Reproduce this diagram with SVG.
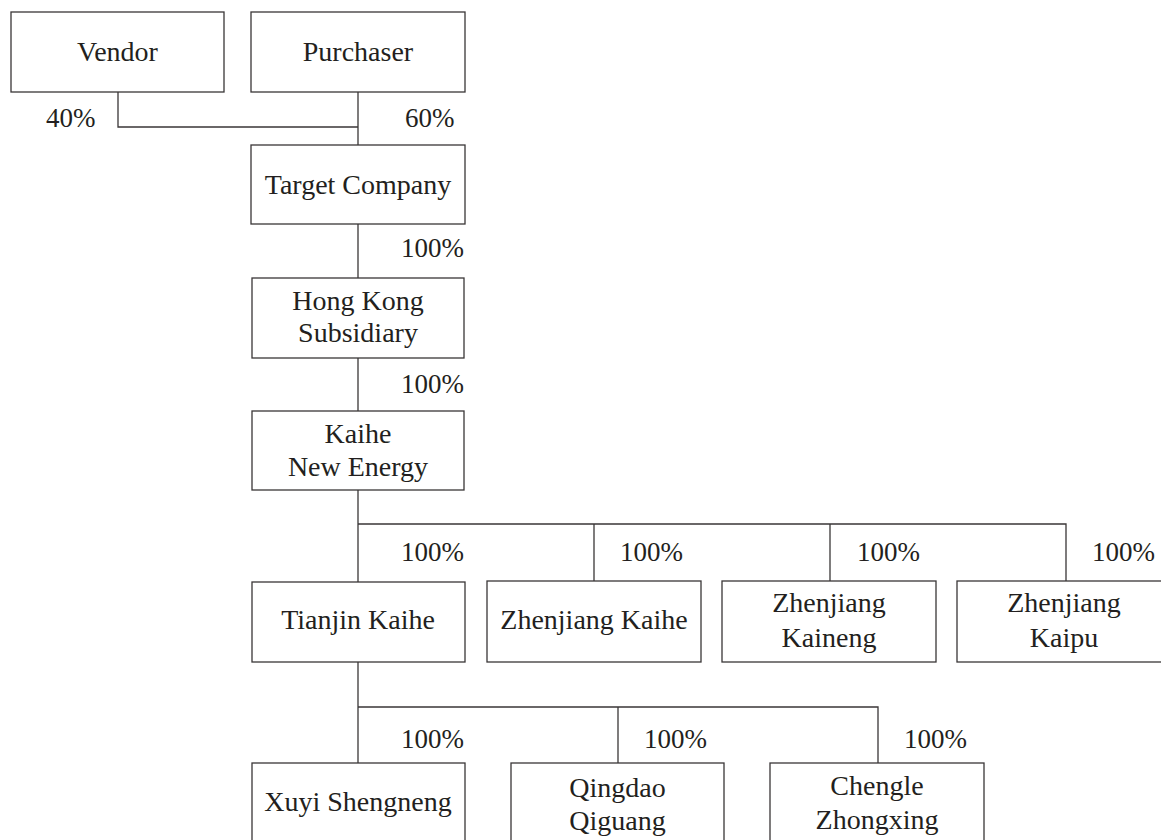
<svg xmlns="http://www.w3.org/2000/svg" width="1161" height="840" viewBox="0 0 1161 840">
<style>
.box{fill:#fff;stroke:#3a3637;stroke-width:1.3}
.ln{fill:none;stroke:#3a3637;stroke-width:1.3}
text{font-family:"Liberation Serif","Times New Roman",serif;font-size:27px;fill:#231f20}
.c{text-anchor:middle;font-size:28px}
</style>
<rect width="1161" height="840" fill="#fff"/>
<g id="connectors">
<path class="ln" d="M118,92 V127 H358"/>
<path class="ln" d="M358,92 V145"/>
<path class="ln" d="M358,224 V278"/>
<path class="ln" d="M358,358 V411"/>
<path class="ln" d="M358,490 V582"/>
<path class="ln" d="M358,524 H1066 V581"/>
<path class="ln" d="M594,524 V581"/>
<path class="ln" d="M830,524 V581"/>
<path class="ln" d="M358,662 V763"/>
<path class="ln" d="M358,707 H878 V763"/>
<path class="ln" d="M618,707 V763"/>
<text x="46" y="127">40%</text>
<text x="405" y="127">60%</text>
<text x="401" y="257">100%</text>
<text x="401" y="393">100%</text>
<text x="401" y="561">100%</text>
<text x="620" y="561">100%</text>
<text x="857" y="561">100%</text>
<text x="1092" y="561">100%</text>
<text x="401" y="748">100%</text>
<text x="644" y="748">100%</text>
<text x="904" y="748">100%</text>
</g>
<g id="vendor"><rect class="box" x="11" y="12" width="213" height="80"/><text class="c" x="117.5" y="61">Vendor</text></g>
<g id="purchaser"><rect class="box" x="251" y="12" width="214" height="80"/><text class="c" x="358" y="61">Purchaser</text></g>
<g id="target"><rect class="box" x="251" y="145" width="214" height="79"/><text class="c" x="358" y="194">Target Company</text></g>
<g id="hongkong"><rect class="box" x="252" y="278" width="212" height="80"/><text class="c" x="358" y="310">Hong Kong</text><text class="c" x="358" y="342">Subsidiary</text></g>
<g id="kaihe"><rect class="box" x="252" y="411" width="212" height="79"/><text class="c" x="358" y="443">Kaihe</text><text class="c" x="358" y="476">New Energy</text></g>
<g id="tianjin"><rect class="box" x="252" y="582" width="213" height="80"/><text class="c" x="358" y="629">Tianjin Kaihe</text></g>
<g id="zjkaihe"><rect class="box" x="487" y="581" width="214" height="81"/><text class="c" x="594" y="629">Zhenjiang Kaihe</text></g>
<g id="zjkaineng"><rect class="box" x="722" y="581" width="214" height="81"/><text class="c" x="829" y="612">Zhenjiang</text><text class="c" x="829" y="647">Kaineng</text></g>
<g id="zjkaipu"><rect class="box" x="957" y="581" width="214" height="81"/><text class="c" x="1064" y="612">Zhenjiang</text><text class="c" x="1064" y="647">Kaipu</text></g>
<g id="xuyi"><rect class="box" x="252" y="763" width="213" height="90"/><text class="c" x="358" y="811">Xuyi Shengneng</text></g>
<g id="qingdao"><rect class="box" x="511" y="763" width="213" height="90"/><text class="c" x="617.5" y="797">Qingdao</text><text class="c" x="617.5" y="830">Qiguang</text></g>
<g id="chengle"><rect class="box" x="770" y="763" width="214" height="90"/><text class="c" x="877" y="795">Chengle</text><text class="c" x="877" y="829">Zhongxing</text></g>
</svg>
